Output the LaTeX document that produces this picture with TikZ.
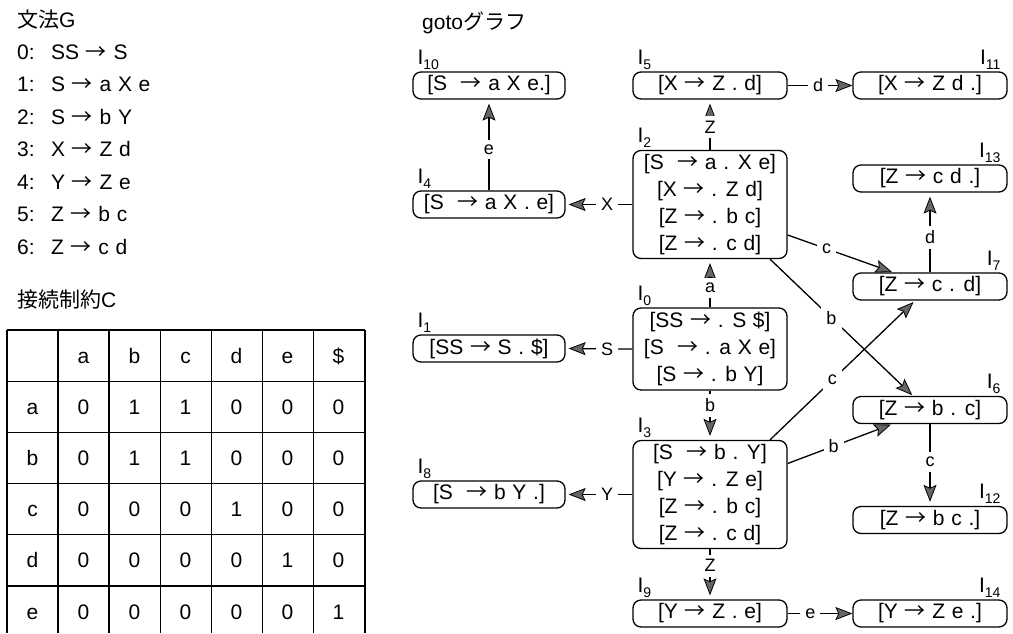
\documentclass[tikz,border=0pt]{standalone}
\usepackage{fontspec}
\setmainfont{Liberation Sans}[WordSpace=1.15]
\newfontfamily\jp{Noto Sans CJK JP}
\usetikzlibrary{arrows.meta,calc}
\newcommand\Ilab[1]{I\raisebox{-5pt}{\fontsize{14}{14}\selectfont #1}}
\newcommand\ra{{\jp →}}
\begin{document}
\begin{tikzpicture}[x=1pt,y=-1pt,
  box/.style={draw, line width=1.3pt, rounded corners=8pt, inner sep=0pt,
    minimum height=27pt, font=\fontsize{21}{27}\selectfont, align=center},
  lcol/.style={box, minimum width=152pt},
  mcol/.style={box, minimum width=154pt},
  ilab/.style={font=\fontsize{21}{25}\selectfont, inner sep=0pt},
  arr/.style={line width=1.3pt,
    -{Stealth[length=17pt,width=13pt,inset=3pt,fill=black!60,line width=0.8pt]}, shorten >=4pt},
  elab/.style={font=\fontsize{18}{20}\selectfont, fill=white, inner sep=5pt},
  txt/.style={font=\fontsize{21}{24}\selectfont, anchor=base west, inner sep=0pt},
  tbl/.style={line width=1.3pt},
  cell/.style={font=\fontsize{21}{24}\selectfont, inner sep=0pt, text height=15pt, text depth=0pt},
]
\useasboundingbox (0,0) rectangle (1013,633);

% ---- grammar ----
\node[txt] (hG) at (17,27.5) {{\jp 文法}G};
\node[txt] (g0) at (17,59)   {\makebox[34pt][l]{0:}SS \ra{} S};
\node[txt] (g1) at (17,91.5) {\makebox[34pt][l]{1:}S \ra{} a X e};
\node[txt] (g2) at (17,124)  {\makebox[34pt][l]{2:}S \ra{} b Y};
\node[txt] (g3) at (17,156.5){\makebox[34pt][l]{3:}X \ra{} Z d};
\node[txt] (g4) at (17,189)  {\makebox[34pt][l]{4:}Y \ra{} Z e};
\node[txt] (g5) at (17,221.5){\makebox[34pt][l]{5:}Z \ra{} b c};
\node[txt] (g6) at (17,254)  {\makebox[34pt][l]{6:}Z \ra{} c d};

% ---- constraint table ----
\node[txt] (hC) at (17,307) {{\jp 接続制約}C};
\foreach \x in {7,58,109,160.5,211.5,262.5,313.5,365}
  \draw[tbl] (\x,330) -- (\x,633);
\foreach \i in {0,...,5}
  \draw[tbl] (7,330+51.2*\i) -- (365,330+51.2*\i);
\foreach \r [count=\i from 0] in {{ ,a,b,c,d,e,\$},{a,0,1,1,0,0,0},{b,0,1,1,0,0,0},{c,0,0,0,1,0,0},{d,0,0,0,0,1,0},{e,0,0,0,0,0,1}}{
  \foreach \v [count=\j from 0] in \r {
    \node[cell] at ({32.5+51*\j}, {355.6+51.2*\i}) {\v};
  }
}

% ---- goto graph ----
\node[txt] (hg) at (422,29) {goto{\jp グラフ}};

% left column
\node[lcol] (I10) at (489,85.5)  {[S\ \ \ra{} a X e.]};
\node[lcol] (I4)  at (489,204.5) {[S\ \ \ra{} a X . e]};
\node[lcol] (I1)  at (489,348.5) {[SS \ra{} S . \$]};
\node[lcol] (I8)  at (489,494.5) {[S\ \ \ra{} b Y .]};
% middle column
\node[mcol] (I5) at (710,85.5)  {[X \ra{} Z . d]};
\node[mcol, minimum height=108pt] (I2) at (710,204.5)
  {[S\ \ \ra{} a . X e]\\{}[X \ra{} . Z d]\\{}[Z \ra{} . b c]\\{}[Z \ra{} . c d]};
\node[mcol, minimum height=82pt] (I0) at (710,349)
  {[SS \ra{} . S \$]\\{}[S\ \ \ra{} . a X e]\\{}[S \ra{} . b Y]};
\node[mcol, minimum height=108pt] (I3) at (710,494.5)
  {[S\ \ \ra{} b . Y]\\{}[Y \ra{} . Z e]\\{}[Z \ra{} . b c]\\{}[Z \ra{} . c d]};
\node[mcol] (I9) at (710,613.5) {[Y \ra{} Z . e]};
% right column
\node[mcol] (I11) at (930,85.5)  {[X \ra{} Z d .]};
\node[mcol] (I13) at (930,178.5) {[Z \ra{} c d .]};
\node[mcol] (I7)  at (930,286.5) {[Z \ra{} c . d]};
\node[mcol] (I6)  at (930,410)   {[Z \ra{} b . c]};
\node[mcol] (I12) at (930,520)   {[Z \ra{} b c .]};
\node[mcol] (I14) at (930,613.5) {[Y \ra{} Z e .]};

% state labels
\foreach \n/\s in {I10/10,I4/4,I1/1,I8/8,I5/5,I2/2,I0/0,I3/3,I9/9}
  \node[ilab, anchor=base west] (L\n) at ([xshift=5pt,yshift=7pt]\n.north west) {\Ilab{\s}};
\foreach \n/\s in {I11/11,I13/13,I7/7,I6/6,I12/12,I14/14}
  \node[ilab, anchor=base east] (L\n) at ([xshift=-7pt,yshift=7pt]\n.north east) {\Ilab{\s}};

% transitions
\draw[arr] (I4.north) -- node[elab,pos=.45]{e} (I10.south);
\draw[arr, shorten >=3pt] (I2.west) -- node[elab,pos=.38]{X} (I4.east);
\draw[arr] (I2.north) -- node[elab,pos=.45]{Z} (I5.south);
\draw[arr] (I0.north) -- node[elab,pos=.4]{a} (I2.south);
\draw[arr, shorten >=3pt] (I0.west) -- node[elab,pos=.38]{S} (I1.east);
\draw[arr] (I0.south) -- node[elab,pos=.3]{b} (I3.north);
\draw[arr, shorten >=3pt] (I3.west) -- node[elab,pos=.38]{Y} (I8.east);
\draw[arr] (I3.south) -- node[elab,pos=.33]{Z} (I9.north);
\draw[arr, shorten >=0pt] (I5.east) -- node[elab,pos=.47]{d} (I11.west);
\draw[arr] (I7.north) -- node[elab,pos=.44]{d} (I13.south);
\draw[arr] (I6.south) -- node[elab,pos=.46]{c} (I12.north);
\draw[arr, shorten >=0pt] (I9.east) -- node[elab,pos=.35]{e} (I14.west);
\draw[arr, shorten >=1pt] ([yshift=-30.5pt]I2.east) -- node[elab,pos=.37]{c} ([xshift=-37pt]I7.north);
\draw[arr, shorten >=1pt] ([xshift=60pt]I2.south) -- node[elab,pos=.43]{b} ([xshift=-17pt]I6.north);
\draw[arr, shorten >=2pt] ([xshift=60pt]I3.north) -- node[elab,pos=.43]{c} ([xshift=-15pt]I7.south);
\draw[arr, shorten >=1pt] ([yshift=31pt]I3.east) -- node[elab,pos=.44]{b} ([xshift=-38pt]I6.south);
\end{tikzpicture}
\end{document}
